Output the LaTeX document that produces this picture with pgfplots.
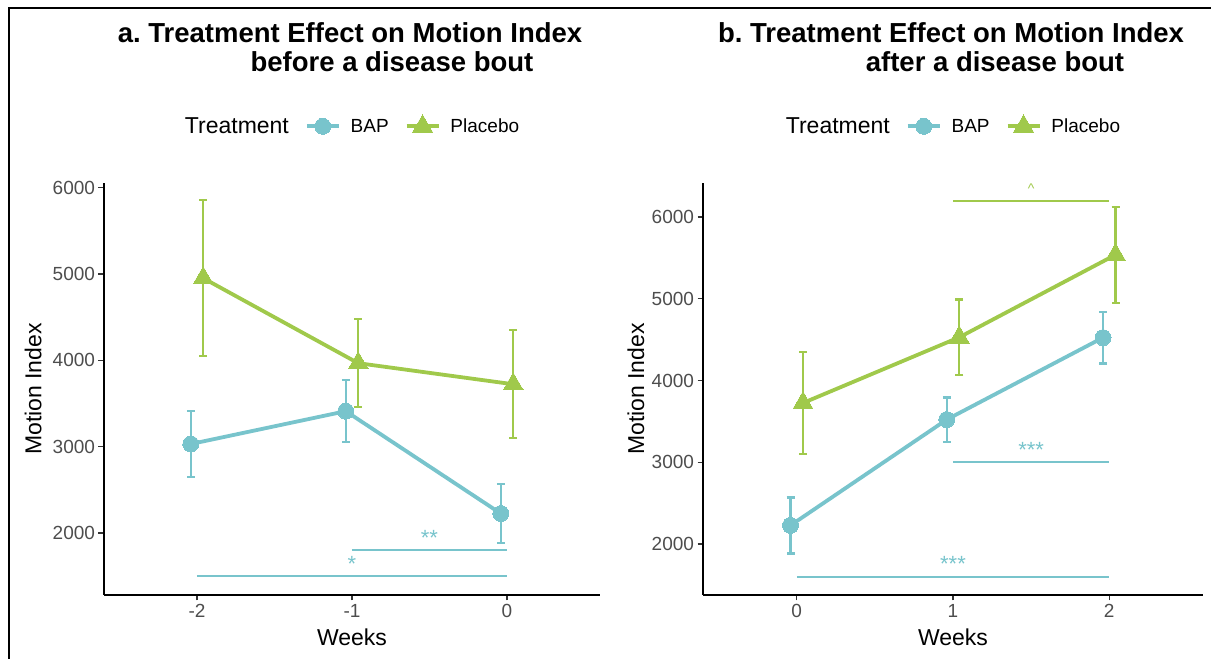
\documentclass[border=0pt]{standalone}
\usepackage{fontspec}
\setmainfont{Liberation Sans}
\usepackage{pgfplots}
\usepackage{pgfplotstable}
\pgfplotsset{compat=1.18}
\definecolor{bap}{RGB}{120,196,204}
\definecolor{plac}{RGB}{160,201,75}
\definecolor{tickgrey}{RGB}{77,77,77}

\pgfplotstableread{
x y e
-2.04 3030 380
-1.04 3410 360
-0.04 2225 342
}\bapA
\pgfplotstableread{
x y e
-1.96 4950 905
-0.96 3966 510
0.04 3722 625
}\placA
\pgfplotstableread{
x y e
-0.04 2228 343
0.96 3522 271
1.96 4524 316
}\bapB
\pgfplotstableread{
x y e
0.04 3725 625
1.04 4528 462
2.04 5537 588
}\placB

\pgfplotsset{
  common/.style={
    scale only axis, height=412pt,
    axis x line*=bottom, axis y line*=left,
    axis line style={line width=2.2pt, black},
    tick align=outside, major tick length=5.5pt,
    tick style={line width=1.4pt, black!80},
    ticklabel style={font=\fontsize{19}{21}\selectfont, text=tickgrey},
    y tick label style={/pgf/number format/1000 sep={}, /pgf/number format/assume math mode=true},
    clip=false,
    xlabel={Weeks}, ylabel={Motion Index},
    label style={font=\fontsize{23}{27}\selectfont},
    xlabel style={at={(axis description cs:0.5,-0.102)}, anchor=center},
    legend columns=-1,
    legend style={at={(axis description cs:0.49,1.141)}, anchor=center, draw=none, fill=none,
      inner sep=0pt, font=\fontsize{19}{21}\selectfont,
      nodes={inner sep=0pt},
      /tikz/every odd column/.append style={column sep=10pt},
      /tikz/every even column/.append style={column sep=16pt}},
    legend image code/.code={\draw[mark repeat=2,mark phase=2] plot coordinates {(0pt,0pt) (16pt,0pt) (32pt,0pt)};},
    bapstyle/.style={bap, line width=3.8pt, mark=*, mark size=8pt,
      mark options={solid, fill=bap, draw=bap, line width=0pt},
      error bars/.cd, y dir=both, y explicit,
      error bar style={line width=2.3pt, bap},
      error mark options={rotate=90, mark size=4pt, line width=2.3pt, bap}},
    placstyle/.style={plac, line width=3.8pt, mark=triangle*, mark size=11.5pt,
      mark options={solid, fill=plac, draw=plac, line width=0pt},
      error bars/.cd, y dir=both, y explicit,
      error bar style={line width=2.3pt, plac},
      error mark options={rotate=90, mark size=4pt, line width=2.3pt, plac}},
    sig/.style={line width=2pt, no marks, forget plot},
  }
}

\begin{document}
\frenchspacing
\begin{tikzpicture}
\path[use as bounding box] (0pt,0pt) rectangle (1211pt,659pt);
\draw[line width=2.4pt] (9pt,0pt) -- (9pt,651pt) -- (1211pt,651pt);

% Panel a
\begin{axis}[common, at={(104pt,64pt)}, anchor=south west, width=496pt,
  xmin=-2.6, xmax=0.6, ymin=1282, ymax=6052,
  xtick={-2,-1,0}, xticklabels={-2,-1,0},
  ytick={2000,3000,4000,5000,6000},
  ylabel style={at={(axis description cs:-0.143,0.5)}, anchor=center}]
\addlegendimage{empty legend}
\addlegendentry{\fontsize{23}{27}\selectfont Treatment}
\addplot[bapstyle] table[x=x, y=y, y error=e] {\bapA};
\addlegendentry{BAP}
\addplot[placstyle] table[x=x, y=y, y error=e] {\placA};
\addlegendentry{Placebo}
\addplot[sig, bap] coordinates {(-1,1800) (0,1800)};
\addplot[sig, bap] coordinates {(-2,1500) (0,1500)};
\node[text=bap, font=\fontsize{22}{24}\selectfont, anchor=base, yshift=5pt] at (axis cs:-0.5,1800) {**};
\node[text=bap, font=\fontsize{22}{24}\selectfont, anchor=base, yshift=5pt] at (axis cs:-1,1500) {*};
\end{axis}

% Panel b
\begin{axis}[common, at={(703pt,64pt)}, anchor=south west, width=500pt,
  xmin=-0.6, xmax=2.6, ymin=1377, ymax=6415,
  xtick={0,1,2}, xticklabels={0,1,2},
  ytick={2000,3000,4000,5000,6000},
  ylabel style={at={(axis description cs:-0.134,0.5)}, anchor=center}]
\addlegendimage{empty legend}
\addlegendentry{\fontsize{23}{27}\selectfont Treatment}
\addplot[bapstyle] table[x=x, y=y, y error=e] {\bapB};
\addlegendentry{BAP}
\addplot[placstyle] table[x=x, y=y, y error=e] {\placB};
\addlegendentry{Placebo}
\addplot[sig, plac] coordinates {(1,6200) (2,6200)};
\addplot[sig, bap] coordinates {(1,3000) (2,3000)};
\addplot[sig, bap] coordinates {(0,1600) (2,1600)};
\node[text=plac, font=\fontsize{14}{16}\selectfont, anchor=base, yshift=7pt] at (axis cs:1.5,6200) {\^{}};
\node[text=bap, font=\fontsize{22}{24}\selectfont, anchor=base, yshift=5pt] at (axis cs:1.5,3000) {***};
\node[text=bap, font=\fontsize{22}{24}\selectfont, anchor=base, yshift=5pt] at (axis cs:1,1600) {***};
\end{axis}

% Titles
\node[font=\bfseries\fontsize{27.5}{32}\selectfont, anchor=base] at (350pt,616pt) {a. Treatment Effect on Motion Index};
\node[font=\bfseries\fontsize{27.5}{32}\selectfont, anchor=base] at (392pt,587pt) {before a disease bout};
\node[font=\bfseries\fontsize{27.5}{32}\selectfont, anchor=base] at (951pt,616pt) {b. Treatment Effect on Motion Index};
\node[font=\bfseries\fontsize{27.5}{32}\selectfont, anchor=base] at (995pt,587pt) {after a disease bout};
\end{tikzpicture}
\end{document}
